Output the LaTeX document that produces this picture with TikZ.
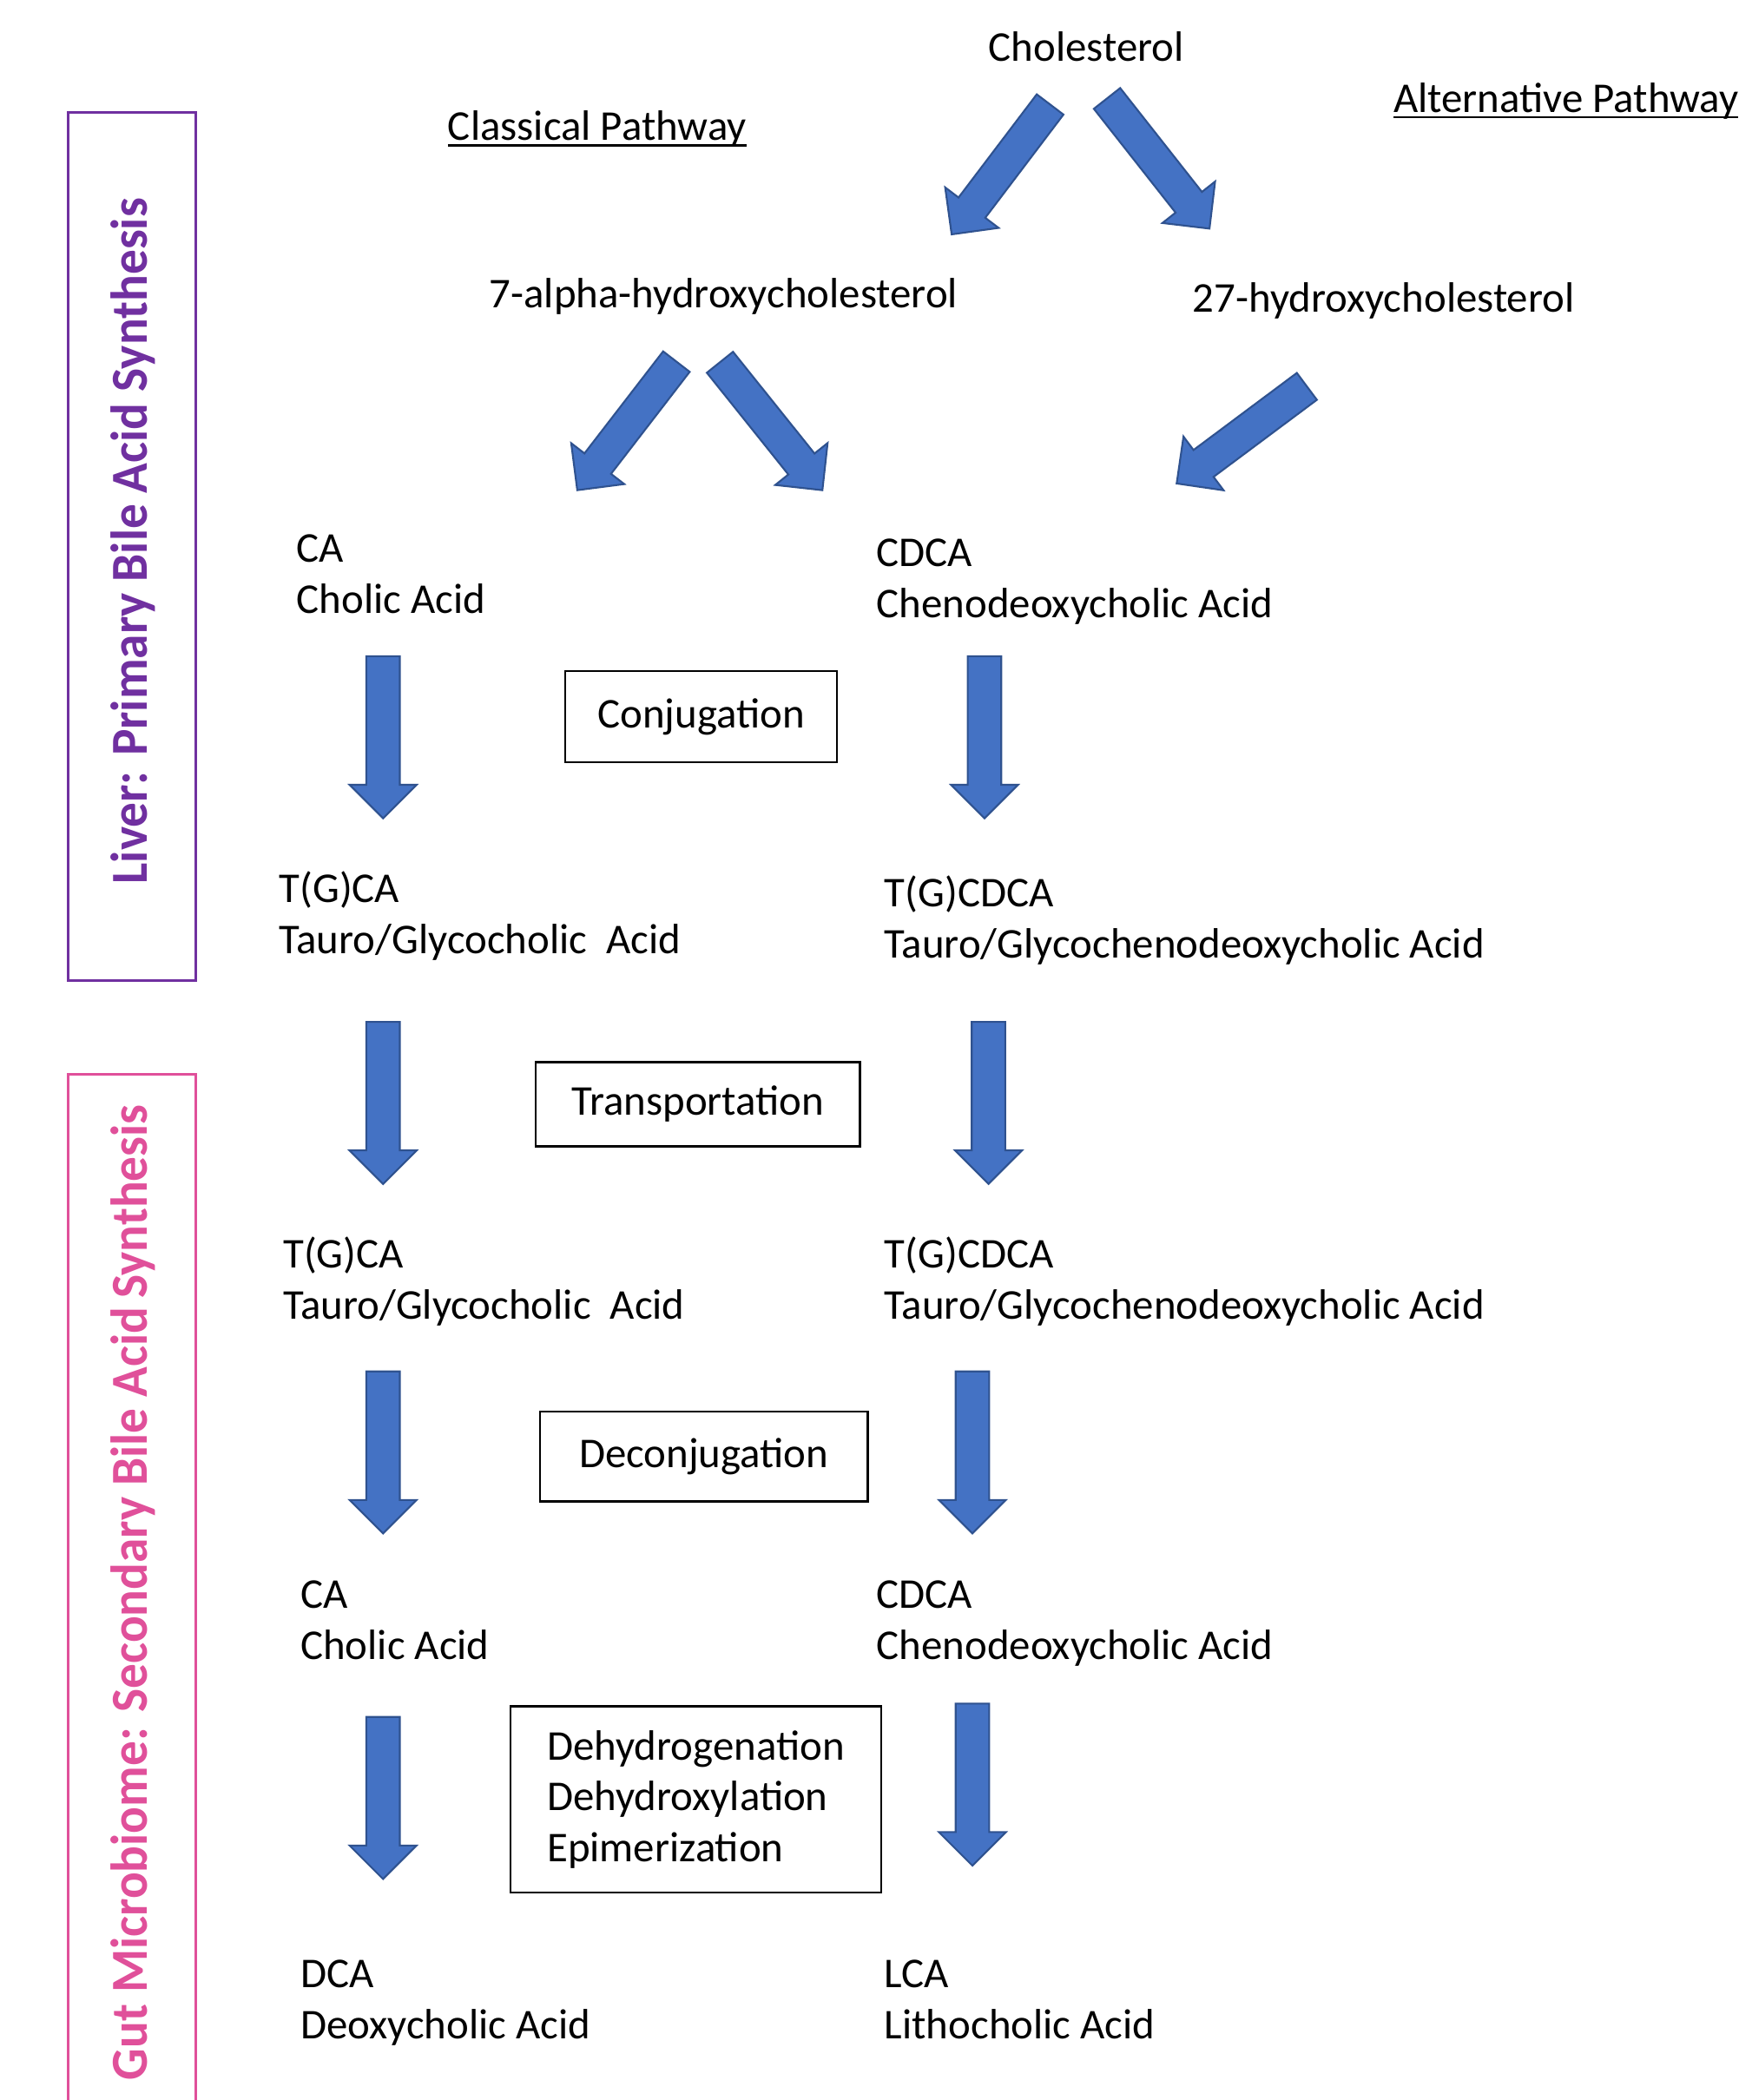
\documentclass[tikz,border=0pt]{standalone}
\usepackage{fontspec}
\setmainfont{Carlito}
\newfontfamily\sidefont{Carlito}[FakeStretch=0.96]
\usetikzlibrary{calc}
\definecolor{babluefill}{HTML}{4472C4}
\definecolor{bablueedge}{HTML}{2F528F}
\definecolor{bapurple}{HTML}{7030A0}
\definecolor{bapink}{HTML}{E0509A}
\newsavebox\titlebox
\newcommand{\pathtitle}[1]{\sbox\titlebox{#1}\rlap{\rule[-1.95pt]{\wd\titlebox}{0.75pt}}\usebox\titlebox}
% block arrow from #1 (tail) to #2 (tip)
\newcommand{\bigarrow}[2]{%
  \coordinate (#1-hb) at ($(#2)!0.386cm!(#1)$);
  \filldraw[flowarrow] ($(#1)!0.193cm!90:(#2)$) -- ($(#1-hb)!0.193cm!90:(#2)$)
    -- ($(#1-hb)!0.386cm!90:(#2)$) -- (#2) -- ($(#1-hb)!0.386cm!-90:(#2)$)
    -- ($(#1-hb)!0.193cm!-90:(#2)$) -- ($(#1)!0.193cm!-90:(#2)$) -- cycle;}
\begin{document}
\begin{tikzpicture}[x=0.015424cm, y=-0.015424cm, font=\fontsize{13.9}{16.7}\selectfont,
    compound/.style={anchor=base west, align=left, inner sep=0pt},
    stepname/.style={draw, line width=0.7pt, inner sep=0pt, align=left},
    flowarrow/.style={fill=babluefill, draw=bablueedge, line width=0.6pt, line join=miter},
    sidebox/.style={line width=0.9pt},
    sidelabel/.style={rotate=90, anchor=base, inner sep=0pt,
      font=\sidefont\bfseries\fontsize{17}{20}\selectfont}]
  \path[use as bounding box, clip] (0,0) rectangle (1298,1568);
  % side panels
  \draw[sidebox, bapurple] (51,84) rectangle (146,732);
  \node[sidelabel, text=bapurple] (liver) at (110,404) {Liver: Primary Bile Acid Synthesis};
  \draw[sidebox, bapink] (51,802) rectangle (146,1620);
  \node[sidelabel, text=bapink] (gut) at (110,1189) {Gut Microbiome: Secondary Bile Acid\,Synthesis};
  % top of the pathway
  \node[anchor=base] (chol) at (811,46) {Cholesterol};
  \node[compound] (classical) at (334,105) {\pathtitle{Classical Pathway}};
  \node[compound] (alternative) at (1040,84) {\pathtitle{Alternative Pathway}};
  \node[compound] (sevenalpha) at (365,230) {7-alpha-hydroxycholesterol};
  \node[compound] (twentyseven) at (890,233) {27-hydroxycholesterol};
  % bile acids (base = last line)
  \node[compound] (ca) at (221,458) {CA\\Cholic Acid};
  \node[compound] (cdca) at (654,461) {CDCA\\Chenodeoxycholic Acid};
  \node[compound] (tgca) at (208,712) {T(G)CA\\Tauro/Glycocholic\ \ Acid};
  \node[compound] (tgcdca) at (660,715) {T(G)CDCA\\Tauro/Glycochenodeoxycholic Acid};
  \node[compound] (gut-tgca) at (211,985) {T(G)CA\\Tauro/Glycocholic\ \ Acid};
  \node[compound] (gut-tgcdca) at (660,985) {T(G)CDCA\\Tauro/Glycochenodeoxycholic Acid};
  \node[compound] (gut-ca) at (224,1239) {CA\\Cholic Acid};
  \node[compound] (gut-cdca) at (654,1239) {CDCA\\Chenodeoxycholic Acid};
  \node[compound] (dca) at (224,1522) {DCA\\Deoxycholic Acid};
  \node[compound] (lca) at (660,1522) {LCA\\Lithocholic Acid};
  % steps
  \node[stepname, minimum width=3.131cm, minimum height=1.049cm] (conj) at (523.5,535) {Conjugation};
  \node[stepname, minimum width=3.733cm, minimum height=0.972cm] (transp) at (521,824.5) {Transportation};
  \node[stepname, minimum width=3.779cm, minimum height=1.033cm] (deconj) at (525.5,1087.5) {Deconjugation};
  \node[stepname, minimum width=4.272cm, minimum height=2.144cm] (microbial) at (519.5,1343.5)
    {Dehydrogenation\\Dehydroxylation\\Epimerization};
  % block arrows
  \foreach \n/\xa/\ya/\xb/\yb in {c1/784/78/710.5/175, c2/826.5/73.5/903/170.7,
      s1/505/270/431/366, s2/537.5/270.5/614/366, h1/975.7/288.5/878.5/361,
      l1/286/490/286/611, r1/735/490/735/611, l2/286/763/286/884, r2/738/763/738/884,
      l3/286/1024/286/1145, r3/726/1024/726/1145, l4/286/1282/286/1403, r4/726/1272/726/1393} {
    \coordinate (\n-top) at (\xa,\ya);
    \coordinate (\n-tip) at (\xb,\yb);
    \bigarrow{\n-top}{\n-tip}}
\end{tikzpicture}
\end{document}
